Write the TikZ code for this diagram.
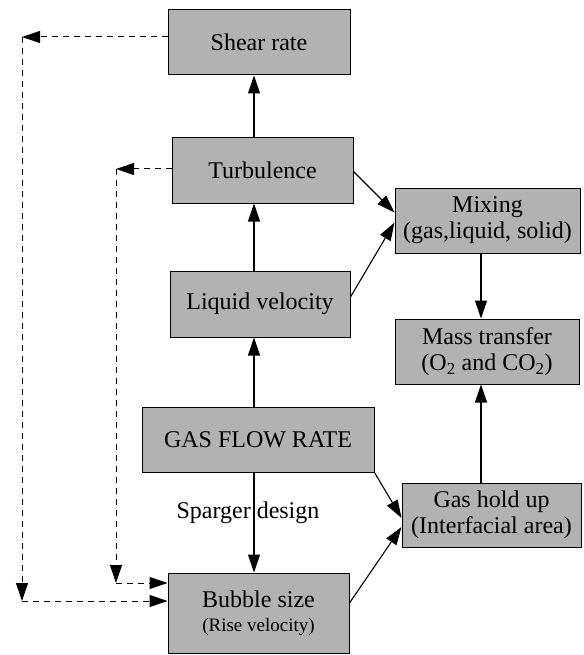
\documentclass[tikz,border=0pt]{standalone}
\usepackage{fontspec}
\setmainfont{Liberation Serif}
\newfontfamily\tnrfont{Liberation Serif}
\usetikzlibrary{arrows.meta,calc}
\begin{document}
\begin{tikzpicture}[x=1pt,y=-1pt,
  box/.style={draw=black, line width=1pt, fill=black!30, inner sep=0pt, align=center,
    font=\tnrfont\fontsize{24}{26}\selectfont},
  arr/.style={line width=1.1pt, -{Triangle[length=18pt,width=12pt]}},
  darr/.style={line width=1pt, dash pattern=on 6pt off 5pt, -{Triangle[length=18pt,width=12pt]}},
  lbl/.style={font=\tnrfont\fontsize{24}{26}\selectfont, inner sep=0pt}]
\useasboundingbox (0,0) rectangle (583,655);
% boxes
\node[box, minimum width=182pt, minimum height=65pt] (shear) at (259,42.5) {Shear rate};
\node[box, minimum width=181pt, minimum height=65pt] (turb) at (262.5,170.5) {Turbulence};
\node[box, minimum width=180pt, minimum height=66pt] (liq) at (260,304) {Liquid velocity};
\node[box, minimum width=232pt, minimum height=65pt] (gas) at (258,439.5) {GAS FLOW RATE};
\node[box, minimum width=181pt, minimum height=80pt] (bub) at (258.5,613) {Bubble size\\[-2pt]{\fontsize{19}{21}\selectfont (Rise velocity)}};
\node[box, minimum width=185pt, minimum height=65pt] (mix) at (487.5,220.5) {Mixing\\(gas,liquid, solid)};
\node[box, minimum width=184pt, minimum height=65pt] (mass) at (487,351.5) {Mass transfer\\(O\textsubscript{2} and CO\textsubscript{2})};
\node[box, minimum width=179pt, minimum height=64pt] (hold) at (491.5,515) {Gas hold up\\(Interfacial area)};
% helper coordinates
\coordinate (cx) at (254,0);
\coordinate (rx) at (481,0);
\coordinate (o1) at (22,37);
\coordinate (o2) at (22,601);
\coordinate (i1) at (116,169);
\coordinate (i2) at (116,583);
% solid arrows
\draw[arr] (turb.north -| cx) -- (shear.south -| cx);
\draw[arr] (liq.north -| cx) -- (turb.south -| cx);
\draw[arr] (gas.north -| cx) -- (liq.south -| cx);
\draw[arr] (gas.south -| cx) -- (bub.north -| cx);
\node[lbl] (sparger) at (248,513) {Sparger design};
\draw[arr] (mix.south -| rx) -- (mass.north -| rx);
\draw[arr] (hold.north -| rx) -- (mass.south -| rx);
\draw[arr] ([yshift=-1pt]turb.east) -- ([yshift=8pt]mix.west);
\draw[arr] ([yshift=7pt]liq.east) -- ([yshift=-2pt]mix.west);
\draw[arr] (gas.south east) -- ([yshift=-3pt]hold.west);
\draw[arr] ([yshift=10pt]bub.east) -- ([yshift=-12pt]hold.west);
% dashed feedback
\draw[darr] (shear.west |- o1) -- (o1);
\draw[darr] (o1) -- (o2);
\draw[darr] (o2) -- (bub.west |- o2);
\draw[darr] (turb.west |- i1) -- (i1);
\draw[darr] (i1) -- (i2);
\draw[darr] (i2) -- (bub.west |- i2);
\end{tikzpicture}
\end{document}
